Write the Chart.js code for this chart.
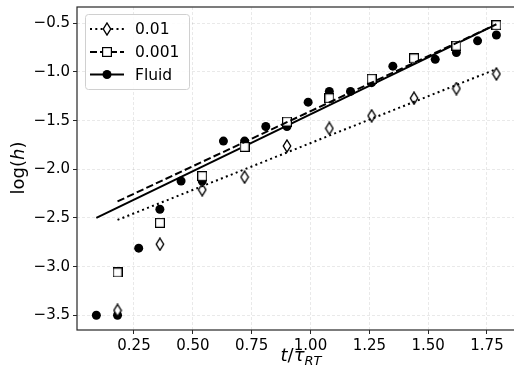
<!DOCTYPE html>
<html lang="en">
<head>
  <meta charset="UTF-8">
  <title>log(h) vs t/tau_RT</title>
  <script src="https://cdn.jsdelivr.net/npm/chart.js"></script>
  <style>
    html, body { margin: 0; padding: 0; background: #fff; overflow: hidden; }
    #wrap { width: 514px; height: 375px; overflow: hidden; position: relative; }
    #growthChart { position: absolute; left: 0; top: 0; }
  </style>
</head>
<body>
  <div id="wrap"><canvas id="growthChart" width="518" height="375"></canvas></div>

  <script>
    // data
    const fluidT = [0.09, 0.18, 0.27, 0.36, 0.45, 0.54, 0.63, 0.72, 0.81, 0.90,
                    0.99, 1.08, 1.17, 1.26, 1.35, 1.44, 1.53, 1.62, 1.71, 1.79];
    const fluidLogH = [-3.50, -3.50, -2.81, -2.41, -2.12, -2.12, -1.71, -1.71, -1.56, -1.56,
                       -1.31, -1.20, -1.20, -1.11, -0.94, -0.87, -0.87, -0.80, -0.68, -0.62];
    const kinT = [0.18, 0.36, 0.54, 0.72, 0.90, 1.08, 1.26, 1.44, 1.62, 1.79];
    const logH001 = [-3.06, -2.55, -2.07, -1.77, -1.51, -1.27, -1.07, -0.86, -0.73, -0.52];
    const logH01 = [-3.45, -2.77, -2.21, -2.08, -1.76, -1.58, -1.45, -1.27, -1.17, -1.02];

    // fitted straight lines (end points)
    const fitFluidT = [0.09, 1.79], fitFluid = [-2.50, -0.51];
    const fit001T = [0.18, 1.79], fit001 = [-2.33, -0.51];
    const fit01T = [0.18, 1.79], fit01 = [-2.52, -0.97];

    const xTicks = [0.25, 0.50, 0.75, 1.00, 1.25, 1.50, 1.75];
    const yTicks = [-3.5, -3.0, -2.5, -2.0, -1.5, -1.0, -0.5];

    const pts = (xs, ys) => xs.map((x, i) => ({ x: x, y: ys[i] }));

    // marker images
    function makeMarker(w, h, draw) {
      const c = document.createElement("canvas");
      c.width = w; c.height = h;
      draw(c.getContext("2d"), w, h);
      return c;
    }
    const diamond = makeMarker(10, 14, (g, w, h) => {
      g.beginPath();
      g.moveTo(w / 2, 1); g.lineTo(w - 1.3, h / 2); g.lineTo(w / 2, h - 1); g.lineTo(1.3, h / 2);
      g.closePath();
      g.fillStyle = "#fff"; g.fill();
      g.strokeStyle = "#000"; g.lineWidth = 1.4; g.stroke();
    });
    const square = makeMarker(10, 10, (g, w, h) => {
      g.fillStyle = "#fff"; g.fillRect(0.5, 0.5, 9, 9);
      g.strokeStyle = "#000"; g.lineWidth = 1.2; g.strokeRect(0.6, 0.6, 8.8, 8.8);
    });

    const FONT = "'DejaVu Sans', sans-serif";

    const frameAndLabels = {
      id: "frameAndLabels",
      afterDraw(chart) {
        const g = chart.ctx, a = chart.chartArea;
        g.save();
        // axes frame
        g.strokeStyle = "#262626"; g.lineWidth = 1.2;
        g.strokeRect(a.left, a.top, a.right - a.left, a.bottom - a.top);

        // legend
        const bx = 85, by = 14, bw = 104, bh = 75, r = 3;
        g.beginPath();
        g.roundRect(bx + 0.5, by + 0.5, bw, bh, r);
        g.fillStyle = "rgba(255,255,255,0.85)"; g.fill();
        g.strokeStyle = "#d0d0d0"; g.lineWidth = 1; g.stroke();

        const rows = [
          { y: 29, label: "0.01", dash: [2, 3.3], mark: diamond },
          { y: 52, label: "0.001", dash: [7, 3], mark: square },
          { y: 74.5, label: "Fluid", dash: [], mark: null }
        ];
        g.font = "15.5px " + FONT;
        g.textBaseline = "middle";
        rows.forEach(row => {
          g.beginPath();
          g.setLineDash(row.dash);
          g.strokeStyle = "#000"; g.lineWidth = 2;
          g.moveTo(90, row.y); g.lineTo(124, row.y); g.stroke();
          g.setLineDash([]);
          if (row.mark) {
            g.drawImage(row.mark, 107 - row.mark.width / 2, Math.round(row.y - row.mark.height / 2));
          } else {
            g.beginPath(); g.arc(107, row.y, 4.5, 0, Math.PI * 2);
            g.fillStyle = "#000"; g.fill();
          }
          g.fillStyle = "#000";
          g.fillText(row.label, 135, row.y + 1);
        });

        // y axis title: log(h)
        g.save();
        g.translate(19, 168);
        g.rotate(-Math.PI / 2);
        const up = "18px " + FONT, it = "italic 18px " + FONT;
        g.font = up; const w1 = g.measureText("log(").width, w3 = g.measureText(")").width;
        g.font = it; const w2 = g.measureText("h").width;
        let x0 = -(w1 + w2 + w3) / 2;
        g.textBaseline = "middle"; g.fillStyle = "#000";
        g.font = up; g.fillText("log(", x0, 0);
        g.font = it; g.fillText("h", x0 + w1, 0);
        g.font = up; g.fillText(")", x0 + w1 + w2, 0);
        g.restore();

        // x axis title: t / tau_RT
        const sub = "italic 13px " + FONT;
        g.font = it; const a1 = g.measureText("t").width;
        g.font = up; const a2 = g.measureText("/").width;
        g.font = it; const a3 = g.measureText("τ").width;
        g.font = sub; const a4 = g.measureText("RT").width;
        let xs = 301 - (a1 + a2 + a3 + a4) / 2;
        const base = 361;
        g.textBaseline = "alphabetic"; g.fillStyle = "#000";
        g.font = it; g.fillText("t", xs, base); xs += a1;
        g.font = up; g.fillText("/", xs, base); xs += a2;
        g.font = it; g.fillText("τ", xs, base); xs += a3;
        g.font = sub; g.fillText("RT", xs, base + 4);
        g.restore();
      }
    };

    const gridOpts = {
      color: "rgba(0,0,0,0.11)",
      lineWidth: 0.8,
      drawTicks: true,
      tickLength: 4,
      tickColor: "#262626",
      tickWidth: 1,
      tickBorderDash: []
    };

    new Chart(document.getElementById("growthChart"), {
      type: "scatter",
      data: {
        datasets: [
          { label: "fit 0.01", data: pts(fit01T, fit01), showLine: true, pointRadius: 0,
            borderColor: "#000", borderWidth: 2, borderDash: [2, 3.3] },
          { label: "0.01", data: pts(kinT, logH01), pointStyle: diamond, pointRadius: 6 },
          { label: "fit 0.001", data: pts(fit001T, fit001), showLine: true, pointRadius: 0,
            borderColor: "#000", borderWidth: 2, borderDash: [7.4, 3.2] },
          { label: "0.001", data: pts(kinT, logH001), pointStyle: square, pointRadius: 5 },
          { label: "fit Fluid", data: pts(fitFluidT, fitFluid), showLine: true, pointRadius: 0,
            borderColor: "#000", borderWidth: 2 },
          { label: "Fluid", data: pts(fluidT, fluidLogH), pointStyle: "circle", pointRadius: 4.5,
            backgroundColor: "#000", borderColor: "#000", borderWidth: 0 }
        ]
      },
      options: {
        responsive: false,
        animation: false,
        layout: { autoPadding: false, padding: { left: 0, top: 7, right: 1, bottom: 0 } },
        plugins: { legend: { display: false }, tooltip: { enabled: false } },
        scales: {
          x: {
            type: "linear",
            min: 0.0078, max: 1.8775,
            afterBuildTicks: s => { s.ticks = xTicks.map(v => ({ value: v })); },
            afterFit: s => { s.height = 45; s.paddingLeft = 0; s.paddingRight = 0; },
            grid: gridOpts,
            border: { display: false, dash: [3, 2] },
            ticks: {
              color: "#000", padding: 3,
              font: { family: FONT, size: 15 },
              maxRotation: 0,
              callback: v => v.toFixed(2)
            }
          },
          y: {
            type: "linear",
            min: -3.651, max: -0.3325,
            afterBuildTicks: s => { s.ticks = yTicks.map(v => ({ value: v })); },
            afterFit: s => { s.width = 77; s.paddingTop = 0; s.paddingBottom = 0; },
            grid: gridOpts,
            border: { display: false, dash: [3, 2] },
            ticks: {
              color: "#000", padding: 3,
              font: { family: FONT, size: 15 },
              callback: v => (v < 0 ? "\u2212" : "") + Math.abs(v).toFixed(1)
            }
          }
        }
      },
      plugins: [frameAndLabels]
    });
  </script>
</body>
</html>
